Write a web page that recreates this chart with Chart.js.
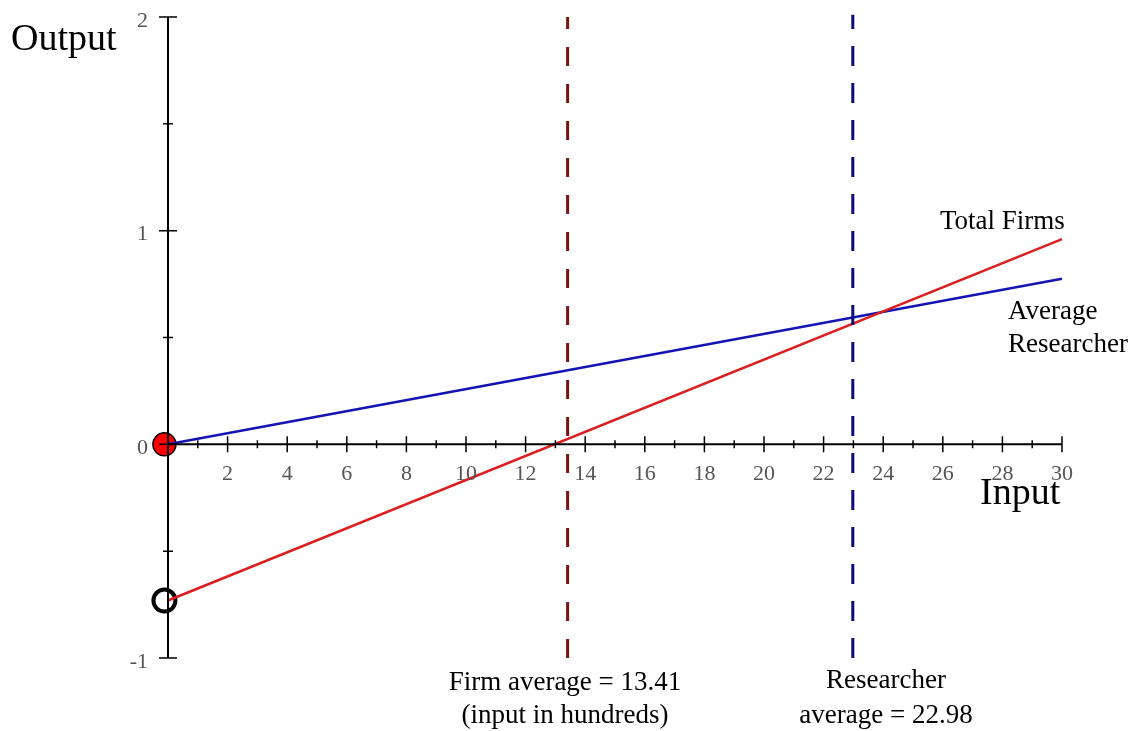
<!DOCTYPE html>
<html>
<head>
<meta charset="utf-8">
<script src="https://cdn.jsdelivr.net/npm/chart.js@4.4.1/dist/chart.umd.min.js"></script>
<style>
  html, body { margin: 0; padding: 0; background: #fff; }
  #wrap { width: 1138px; height: 731px; position: relative; }
</style>
</head>
<body>
<div id="wrap"><canvas id="chart"></canvas></div>
<script>
// values
const totalFirms = [{ x: 0, y: -0.731 }, { x: 30, y: 0.96 }];
const avgResearcher = [{ x: 0, y: 0 }, { x: 30, y: 0.775 }];
const firmAverage = 13.41;
const researcherAverage = 22.98;
const xTickLabels = [2, 4, 6, 8, 10, 12, 14, 16, 18, 20, 22, 24, 26, 28, 30];
const xMinorTicks = [1, 3, 5, 7, 9, 11, 13, 15, 17, 19, 21, 23, 25, 27, 29];
const yTickLabels = [-1, 0, 1, 2];
const yMinorTicks = [-0.5, 0.5, 1.5];
const filledPoint = [{ x: -0.12, y: 0 }];
const openPoint = [{ x: -0.12, y: -0.731 }];

const serif = '"Liberation Serif", "Times New Roman", serif';

// axes through the origin, ticks crossing both sides, plus the free text
const axesPlugin = {
  id: 'axesPlugin',
  afterDatasetsDraw(chart) {
    const ctx = chart.ctx;
    const xs = chart.scales.x;
    const ys = chart.scales.y;
    const x0 = xs.getPixelForValue(0);
    const y0 = ys.getPixelForValue(0);
    ctx.save();
    ctx.strokeStyle = '#000';
    ctx.lineWidth = 2;
    ctx.beginPath();
    ctx.moveTo(x0, ys.getPixelForValue(2));
    ctx.lineTo(x0, ys.getPixelForValue(-1));
    ctx.moveTo(x0, y0);
    ctx.lineTo(xs.getPixelForValue(30), y0);
    ctx.stroke();

    ctx.lineWidth = 1.5;
    ctx.beginPath();
    xTickLabels.forEach(v => {
      const px = xs.getPixelForValue(v);
      ctx.moveTo(px, y0 - 8); ctx.lineTo(px, y0 + 8);
    });
    xMinorTicks.forEach(v => {
      const px = xs.getPixelForValue(v);
      ctx.moveTo(px, y0 - 4); ctx.lineTo(px, y0 + 4);
    });
    yTickLabels.forEach(v => {
      const py = ys.getPixelForValue(v);
      ctx.moveTo(x0 - 9, py); ctx.lineTo(x0 + 9, py);
    });
    yMinorTicks.forEach(v => {
      const py = ys.getPixelForValue(v);
      ctx.moveTo(x0 - 5, py); ctx.lineTo(x0 + 5, py);
    });
    ctx.stroke();

    ctx.fillStyle = '#555';
    ctx.font = '22px ' + serif;
    ctx.textAlign = 'center';
    ctx.textBaseline = 'middle';
    xTickLabels.forEach(v => {
      ctx.fillText(String(v), xs.getPixelForValue(v), y0 + 30);
    });
    ctx.textAlign = 'right';
    yTickLabels.forEach(v => {
      ctx.fillText(String(v), x0 - 20, ys.getPixelForValue(v) + 4);
    });

    ctx.fillStyle = '#000';
    ctx.textAlign = 'left';
    ctx.font = '38px ' + serif;
    ctx.fillText('Output', 11, 40);
    ctx.fillText('Input', 980, 494);

    ctx.font = '27px ' + serif;
    ctx.fillText('Total Firms', 940, 222);
    ctx.fillText('Average', 1008, 312);
    ctx.fillText('Researcher', 1008, 345);

    ctx.textAlign = 'center';
    ctx.fillText('Firm average = 13.41', 565, 683);
    ctx.fillText('(input in hundreds)', 565, 716);
    ctx.fillText('Researcher', 886, 681);
    ctx.fillText('average = 22.98', 886, 716);
    ctx.restore();
  }
};

new Chart(document.getElementById('chart'), {
  type: 'scatter',
  data: {
    datasets: [
      {
        label: 'Firm average',
        data: [{ x: firmAverage, y: -1 }, { x: firmAverage, y: 2 }],
        showLine: true,
        borderColor: '#7a1414',
        borderWidth: 3,
        borderDash: [19, 18],
        pointRadius: 0
      },
      {
        label: 'Researcher average',
        data: [{ x: researcherAverage, y: -1 }, { x: researcherAverage, y: 2.01 }],
        showLine: true,
        borderColor: '#0c0c7a',
        borderWidth: 3,
        borderDash: [20, 17],
        pointRadius: 0
      },
      {
        label: 'Total Firms',
        data: totalFirms,
        showLine: true,
        borderColor: '#dc1e1e',
        borderWidth: 2.5,
        pointRadius: 0
      },
      {
        label: 'Average Researcher',
        data: avgResearcher,
        showLine: true,
        borderColor: '#1414b4',
        borderWidth: 2.5,
        pointRadius: 0
      },
      {
        label: 'filled',
        data: filledPoint,
        pointRadius: 11.5,
        pointBackgroundColor: '#ff0000',
        pointBorderColor: '#000',
        pointBorderWidth: 1.5
      },
      {
        label: 'open',
        data: openPoint,
        pointRadius: 11,
        pointBackgroundColor: '#fff',
        pointBorderColor: '#000',
        pointBorderWidth: 4
      }
    ]
  },
  options: {
    responsive: true,
    maintainAspectRatio: false,
    animation: false,
    clip: false,
    layout: { padding: { left: 168, right: 76, top: 17, bottom: 73 } },
    plugins: { legend: { display: false }, tooltip: { enabled: false } },
    scales: {
      x: { type: 'linear', min: 0, max: 30, display: false },
      y: { type: 'linear', min: -1, max: 2, display: false }
    }
  },
  plugins: [axesPlugin]
});
</script>
</body>
</html>
